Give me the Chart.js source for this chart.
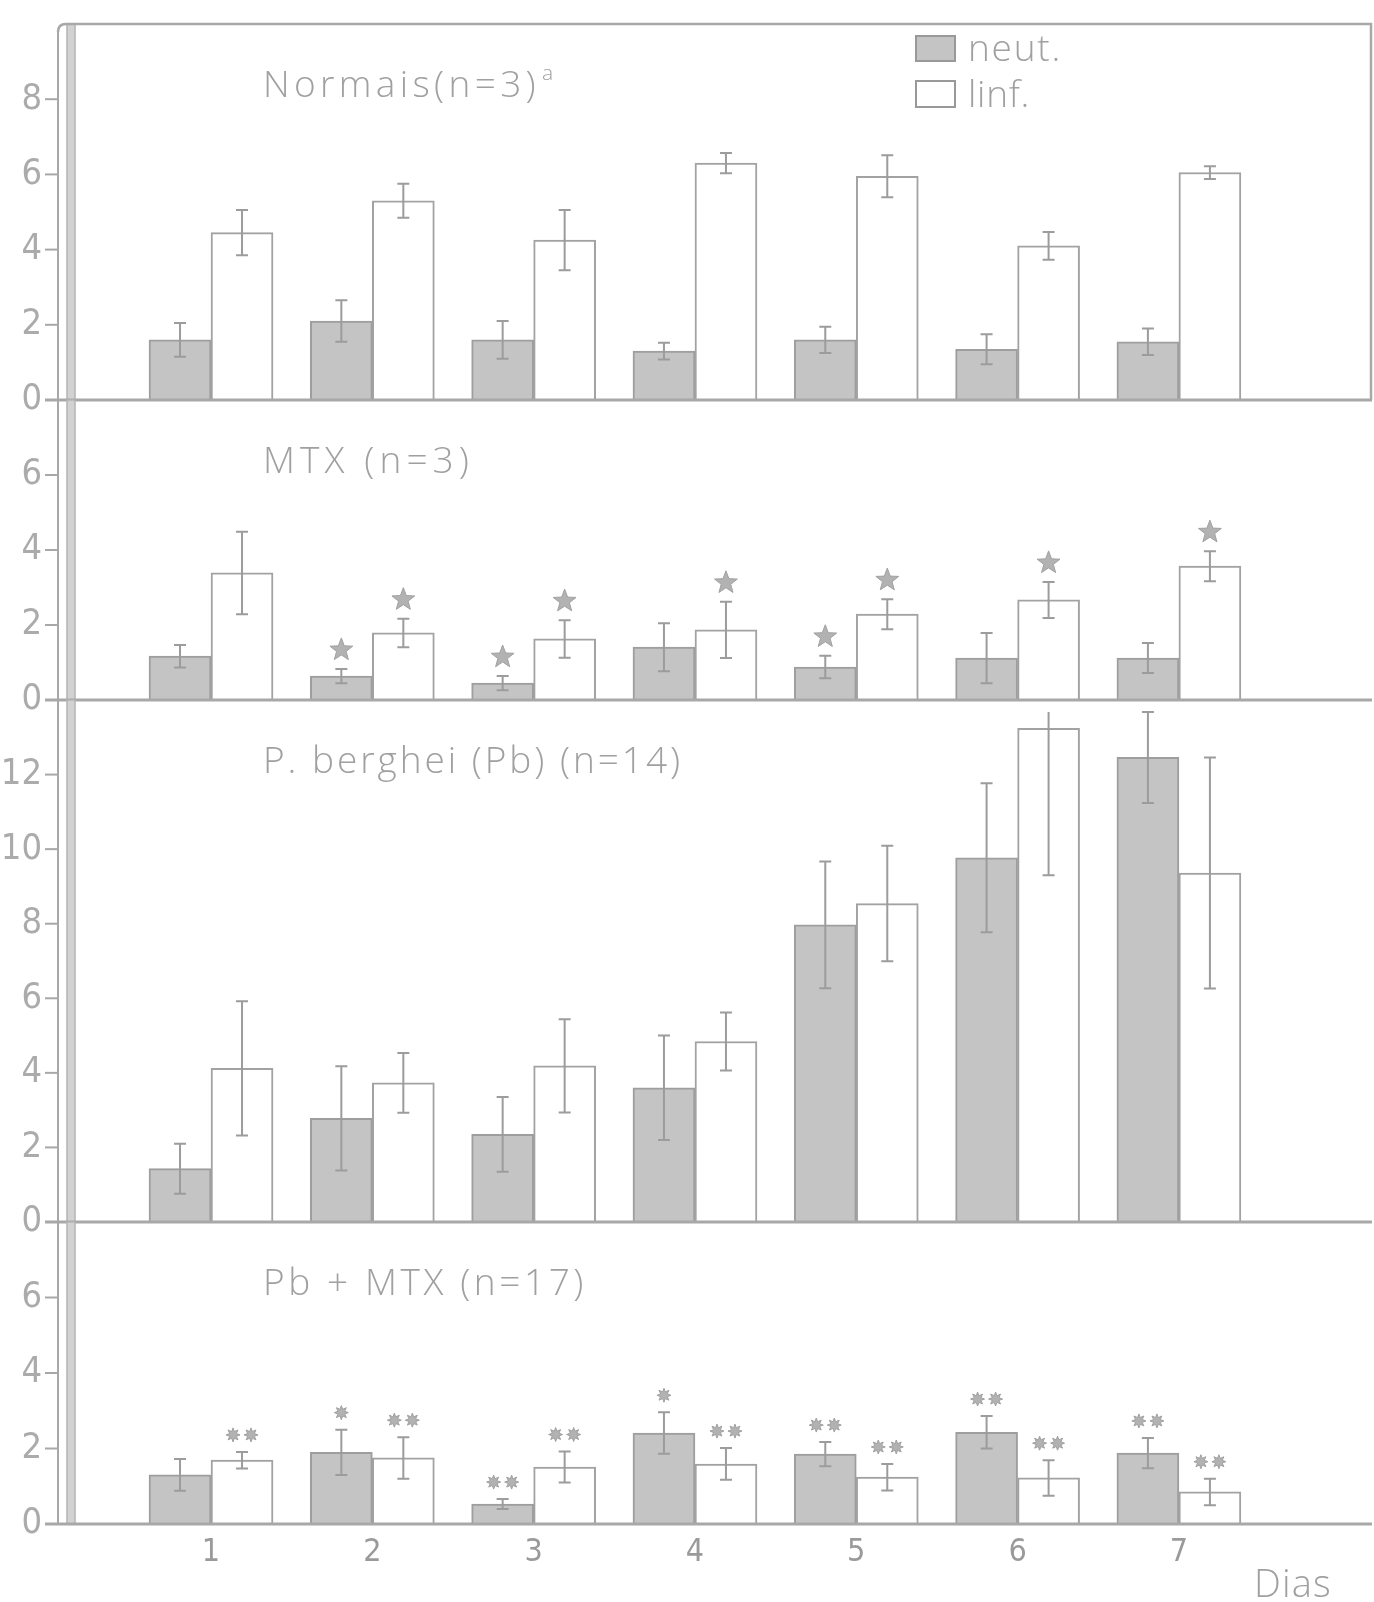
<!DOCTYPE html>
<html>
<head>
<meta charset="utf-8">
<script src="https://cdn.jsdelivr.net/npm/chart.js@4.4.1/dist/chart.umd.min.js"></script>
<style>
  html, body { margin: 0; padding: 0; background: #fff; }
  #fig { position: relative; width: 1374px; height: 1602px; overflow: hidden; }
  .panel { position: absolute; left: 0; width: 1374px; }
</style>
</head>
<body>
<div id="fig">
  <div class="panel" id="p1"><canvas id="c1"></canvas></div>
  <div class="panel" id="p2"><canvas id="c2"></canvas></div>
  <div class="panel" id="p3"><canvas id="c3"></canvas></div>
  <div class="panel" id="p4"><canvas id="c4"></canvas></div>
</div>
<script>
const days = [1, 2, 3, 4, 5, 6, 7];
const legendLabels = ['neut.', 'linf.'];
const xTitle = 'Dias';

// Normais (n=3)
const normaisNeut = [1.6, 2.1, 1.6, 1.3, 1.6, 1.35, 1.55];
const normaisNeutErr = [0.45, 0.55, 0.5, 0.22, 0.35, 0.4, 0.35];
const normaisLinf = [4.45, 5.3, 4.25, 6.3, 5.95, 4.1, 6.05];
const normaisLinfErr = [0.6, 0.45, 0.8, 0.27, 0.56, 0.37, 0.17];

// MTX (n=3)
const mtxNeut = [1.17, 0.64, 0.45, 1.41, 0.88, 1.12, 1.12];
const mtxNeutErr = [0.3, 0.19, 0.19, 0.64, 0.3, 0.67, 0.4];
const mtxLinf = [3.39, 1.79, 1.63, 1.87, 2.29, 2.67, 3.57];
const mtxLinfErr = [1.1, 0.38, 0.5, 0.75, 0.4, 0.48, 0.4];
const mtxMarksNeut = [0, 1, 1, 0, 1, 0, 0];
const mtxMarksLinf = [0, 1, 1, 1, 1, 1, 1];

// P. berghei (n=14)
const pbNeut = [1.43, 2.78, 2.35, 3.6, 7.97, 9.77, 12.46];
const pbNeutErr = [0.67, 1.4, 1.0, 1.4, 1.7, 2.0, 1.22];
const pbLinf = [4.12, 3.73, 4.19, 4.84, 8.54, 13.24, 9.36];
const pbLinfErr = [1.8, 0.8, 1.25, 0.78, 1.55, 3.94, 3.1];

// Pb + MTX (n=17)
const pbmtxNeut = [1.3, 1.9, 0.53, 2.41, 1.85, 2.43, 1.88];
const pbmtxNeutErr = [0.42, 0.6, 0.13, 0.55, 0.32, 0.43, 0.4];
const pbmtxLinf = [1.69, 1.75, 1.51, 1.59, 1.24, 1.22, 0.85];
const pbmtxLinfErr = [0.22, 0.55, 0.41, 0.42, 0.35, 0.47, 0.35];
const pbmtxMarksNeut = [0, 1, 2, 1, 2, 2, 2];
const pbmtxMarksLinf = [2, 2, 2, 2, 2, 2, 2];

const titles = ['Normais(n=3)', 'MTX (n=3)', 'P. berghei (Pb) (n=14)', 'Pb + MTX (n=17)'];
const titleNote = 'a';
const yMax = [10, 8, 14, 8];

// layout (page pixels)
const areaTop = [24, 400, 700, 1222];
const areaBottom = [400, 700, 1222, 1524];
const titleWidth = [277, 211, 420, 324];

const INK = '#a0a0a0';
const LINE = '#a8a8a8';
const NEUT_FILL = '#c4c4c4';
const NUM_FONT = '"Liberation Sans Narrow", "DejaVu Sans Condensed", sans-serif';
const TXT_FONT = '"Open Sans", "Noto Sans", sans-serif';

function starPath(ctx, cx, cy, n, ro, ri) {
  ctx.beginPath();
  for (let i = 0; i < 2 * n; i++) {
    const r = i % 2 ? ri : ro;
    const a = -Math.PI / 2 + i * Math.PI / n;
    ctx.lineTo(cx + r * Math.cos(a), cy + r * Math.sin(a));
  }
  ctx.closePath();
}

function fitText(ctx, text, x, y, target) {
  ctx.letterSpacing = '0px';
  const w = ctx.measureText(text).width;
  const ls = Math.max(0, (target - w) / text.length);
  ctx.letterSpacing = ls + 'px';
  ctx.fillText(text, x, y);
  const out = ctx.measureText(text).width;
  ctx.letterSpacing = '0px';
  return out;
}

function makePanel(k, neut, neutErr, linf, linfErr, marksNeut, marksLinf, markKind) {
  const last = k === 3;
  // y tick padding adds to the scale's own top/bottom padding, so leave room
  const padTop = 58;
  const padBottom = last ? 28 : 58;
  const axisH = last ? 50 : 0;
  const h = areaBottom[k] - areaTop[k] + padTop + padBottom + axisH;
  const wrap = document.getElementById('p' + (k + 1));
  wrap.style.top = (areaTop[k] - padTop) + 'px';
  wrap.style.height = h + 'px';
  const cv = document.getElementById('c' + (k + 1));
  cv.width = 1374; cv.height = h;
  cv.style.width = '1374px'; cv.style.height = h + 'px';

  const deco = {
    id: 'deco' + k,
    beforeDatasetsDraw(chart) {
      const ctx = chart.ctx, a = chart.chartArea, y = chart.scales.y;
      ctx.save();
      // left double axis
      ctx.strokeStyle = LINE;
      ctx.lineWidth = 2;
      ctx.beginPath();
      ctx.moveTo(a.left - 18, k === 0 ? a.top + 8 : a.top);
      ctx.lineTo(a.left - 18, a.bottom);
      ctx.stroke();
      ctx.fillStyle = '#d2d2d2';
      ctx.fillRect(a.left - 9, a.top, 8, a.bottom - a.top);
      ctx.lineWidth = 1.5;
      ctx.strokeStyle = '#b4b4b4';
      ctx.strokeRect(a.left - 9, a.top, 8, a.bottom - a.top);
      // tick marks
      ctx.lineWidth = 2;
      ctx.strokeStyle = LINE;
      y.ticks.forEach(t => {
        if (t.value >= yMax[k]) return;
        const py = y.getPixelForValue(t.value);
        ctx.beginPath();
        ctx.moveTo(a.left - 31, py);
        ctx.lineTo(a.left - 18, py);
        ctx.stroke();
      });
      if (k === 0) {
        ctx.lineWidth = 2.5;
        ctx.beginPath();
        ctx.moveTo(a.left - 18, a.top + 8);
        ctx.quadraticCurveTo(a.left - 18, a.top, a.left - 10, a.top);
        ctx.lineTo(a.right - 1, a.top);
        ctx.lineTo(a.right - 1, y.getPixelForValue(0));
        ctx.stroke();
      }
      ctx.restore();
    },
    afterDatasetsDraw(chart) {
      const ctx = chart.ctx, a = chart.chartArea, y = chart.scales.y;
      ctx.save();
      // baseline
      const y0 = y.getPixelForValue(0);
      ctx.strokeStyle = LINE;
      ctx.lineWidth = 3;
      ctx.beginPath();
      ctx.moveTo(a.left - 31, y0);
      ctx.lineTo(a.right, y0);
      ctx.stroke();
      // error bars + marks
      const series = [[neut, neutErr, marksNeut], [linf, linfErr, marksLinf]];
      series.forEach((s, di) => {
        const meta = chart.getDatasetMeta(di);
        meta.data.forEach((bar, i) => {
          const hi = s[0][i] + s[1][i], lo = s[0][i] - s[1][i];
          let yHi = y.getPixelForValue(hi);
          const yLo = y.getPixelForValue(lo);
          const clipped = yHi < a.top;
          if (clipped) yHi = a.top + 12;
          ctx.strokeStyle = '#9c9c9c';
          ctx.lineWidth = 2;
          ctx.beginPath();
          ctx.moveTo(bar.x, yHi); ctx.lineTo(bar.x, yLo);
          if (!clipped) { ctx.moveTo(bar.x - 6, yHi); ctx.lineTo(bar.x + 6, yHi); }
          ctx.moveTo(bar.x - 6, yLo); ctx.lineTo(bar.x + 6, yLo);
          ctx.stroke();
          const n = s[2] ? s[2][i] : 0;
          if (!n) return;
          ctx.fillStyle = '#b2b2b2';
          ctx.strokeStyle = '#a0a0a0';
          ctx.lineWidth = 1;
          if (markKind === 'star') {
            starPath(ctx, bar.x, yHi - 19, 5, 12, 5);
            ctx.fill(); ctx.stroke();
          } else {
            for (let m = 0; m < n; m++) {
              const cx = bar.x + (n === 2 ? (m ? 9 : -9) : 0);
              starPath(ctx, cx, yHi - 17, 8, 7, 3.6);
              ctx.fill(); ctx.stroke();
            }
          }
        });
      });
      // title
      ctx.fillStyle = INK;
      ctx.textBaseline = 'alphabetic';
      ctx.textAlign = 'left';
      ctx.font = '300 37px ' + TXT_FONT;
      const tw = fitText(ctx, titles[k], 263, a.top + 73, titleWidth[k]);
      if (k === 0) {
        ctx.font = '300 21px ' + TXT_FONT;
        ctx.fillText(titleNote, 263 + tw + 2, a.top + 56);
        // legend
        ctx.fillStyle = NEUT_FILL;
        ctx.strokeStyle = '#999';
        ctx.lineWidth = 2;
        ctx.fillRect(916, a.top + 12, 39, 25);
        ctx.strokeRect(916, a.top + 12, 39, 25);
        ctx.fillStyle = '#fff';
        ctx.fillRect(916, a.top + 57, 39, 26);
        ctx.strokeRect(916, a.top + 57, 39, 26);
        ctx.fillStyle = INK;
        ctx.font = '300 37px ' + TXT_FONT;
        fitText(ctx, legendLabels[0], 968, a.top + 37, 94);
        fitText(ctx, legendLabels[1], 968, a.top + 83, 62);
      }
      if (last) {
        ctx.font = '300 38px ' + TXT_FONT;
        fitText(ctx, xTitle, 1254, a.bottom + 73, 78);
      }
      ctx.restore();
    }
  };

  return new Chart(cv.getContext('2d'), {
    type: 'bar',
    data: {
      datasets: [
        {
          label: legendLabels[0],
          data: days.map((d, i) => ({ x: d, y: neut[i] })),
          backgroundColor: NEUT_FILL,
          borderColor: '#9e9e9e',
          borderWidth: 2,
          barThickness: 62
        },
        {
          label: legendLabels[1],
          data: days.map((d, i) => ({ x: d, y: linf[i] })),
          backgroundColor: '#ffffff',
          borderColor: '#a2a2a2',
          borderWidth: 2,
          barThickness: 62
        }
      ]
    },
    options: {
      responsive: false,
      maintainAspectRatio: false,
      animation: false,
      layout: { padding: { top: padTop, bottom: padBottom, left: 0, right: 2 } },
      plugins: { legend: { display: false }, tooltip: { enabled: false } },
      scales: {
        x: {
          type: 'linear',
          offset: false,
          min: 0.163,
          max: 8.197,
          display: last,
          grid: { display: false, drawTicks: false },
          border: { display: false },
          afterBuildTicks: s => { s.ticks = days.map(d => ({ value: d })); },
          afterFit: s => { s.height = axisH; },
          ticks: {
            padding: 9,
            color: '#9a9a9a',
            font: { family: NUM_FONT, size: 32 },
            callback: v => String(v)
          }
        },
        y: {
          min: 0,
          max: yMax[k],
          grid: { display: false, drawTicks: false },
          border: { display: false },
          afterFit: s => { s.width = 76; },
          ticks: {
            stepSize: 2,
            padding: 34,
            color: '#ababab',
            font: { family: NUM_FONT, size: 36 },
            callback: v => (v >= yMax[k] ? '' : String(v))
          }
        }
      }
    },
    plugins: [deco]
  });
}

makePanel(0, normaisNeut, normaisNeutErr, normaisLinf, normaisLinfErr, null, null, null);
makePanel(1, mtxNeut, mtxNeutErr, mtxLinf, mtxLinfErr, mtxMarksNeut, mtxMarksLinf, 'star');
makePanel(2, pbNeut, pbNeutErr, pbLinf, pbLinfErr, null, null, null);
makePanel(3, pbmtxNeut, pbmtxNeutErr, pbmtxLinf, pbmtxLinfErr, pbmtxMarksNeut, pbmtxMarksLinf, 'ast');
</script>
</body>
</html>
